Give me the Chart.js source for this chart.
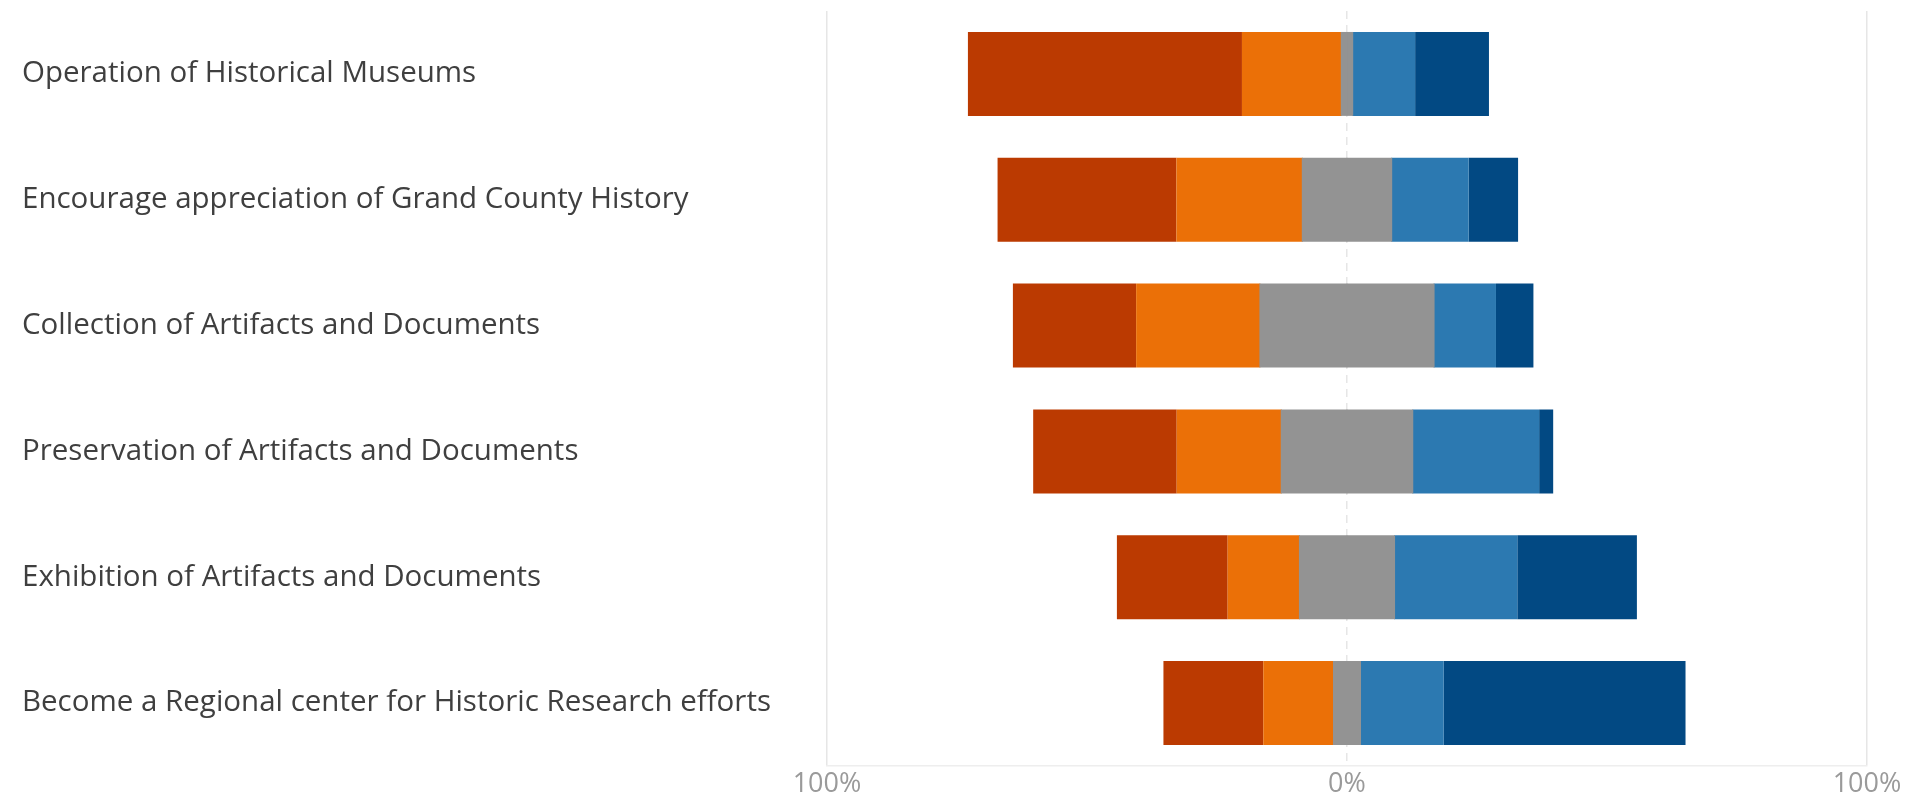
<!DOCTYPE html>
<html>
<head>
<meta charset="utf-8">
<script src="https://cdn.jsdelivr.net/npm/chart.js@4"></script>
<style>
    html, body { margin: 0; padding: 0; background: #fff; }
    #wrap { width: 1910px; height: 799px; }
</style>
</head>
<body>
<div id="wrap"><canvas id="likertChart"></canvas></div>
<script>
// ===== Data (percent of responses) =====
const categories = [
    "Operation of Historical Museums",
    "Encourage appreciation of Grand County History",
    "Collection of Artifacts and Documents",
    "Preservation of Artifacts and Documents",
    "Exhibition of Artifacts and Documents",
    "Become a Regional center for Historic Research efforts",
];
const stronglyDisagree = [52.7, 34.4, 23.7, 27.6, 21.3, 19.2];
const disagree = [19.2, 24.3, 23.9, 20.2, 13.9, 13.6];
const neutral = [2.0, 17.0, 33.3, 25.1, 18.1, 5.0];
const agree = [12.1, 14.9, 12.0, 24.4, 23.7, 16.1];
const stronglyAgree = [14.2, 9.5, 7.2, 2.7, 23.0, 46.5];
const tickValues = [-100, 0, 100];

const colors = {
    sd: "#bb3a01",
    d: "#eb7007",
    n: "#939393",
    a: "#2c79b1",
    sa: "#024983",
};

// negative side stacks outward from zero in dataset order
const neg = (arr) => arr.map((v) => -v);
const half = (arr, sign) => arr.map((v) => (sign * v) / 2);

// neutral is split in two halves around 0; inflate 1px to hide the seam,
// and shrink the bar a bit so the height still matches the others
const neutralOpts = { backgroundColor: colors.n, inflateAmount: 1, barPercentage: 0.651 };

new Chart(document.getElementById("likertChart"), {
    type: "bar",
    data: {
        labels: categories,
        datasets: [
            { label: "Neutral", data: half(neutral, -1), ...neutralOpts },
            { label: "Disagree", data: neg(disagree), backgroundColor: colors.d },
            { label: "Strongly disagree", data: neg(stronglyDisagree), backgroundColor: colors.sd },
            { label: "Neutral ", data: half(neutral, 1), ...neutralOpts },
            { label: "Agree", data: agree, backgroundColor: colors.a },
            { label: "Strongly agree", data: stronglyAgree, backgroundColor: colors.sa },
        ],
    },
    options: {
        indexAxis: "y",
        responsive: true,
        maintainAspectRatio: false,
        animation: false,
        categoryPercentage: 1,
        barPercentage: 0.667,
        layout: { padding: { left: 22, right: 43, top: 11, bottom: 0 } },
        plugins: {
            legend: { display: false },
            tooltip: { enabled: false },
        },
        scales: {
            x: {
                stacked: true,
                min: -100,
                max: 100,
                afterBuildTicks: (scale) => {
                    scale.ticks = tickValues.map((v) => ({ value: v }));
                },
                afterFit: (scale) => {
                    scale.height = 33;
                },
                ticks: {
                    padding: 2,
                    color: "#9a9a9a",
                    font: { family: "'Open Sans', sans-serif", size: 27 },
                    callback: (v) => Math.abs(v) + "%",
                },
                grid: {
                    drawTicks: false,
                    color: "#e6e6e6",
                    lineWidth: 1.5,
                },
                border: {
                    display: true,
                    color: "#eeeeee",
                    width: 1.5,
                    dash: (ctx) => (ctx.tick && ctx.tick.value === 0 ? [8, 6] : []),
                },
            },
            y: {
                stacked: true,
                afterFit: (scale) => {
                    scale.width = 805;
                    scale.paddingTop = 0;
                    scale.paddingBottom = 0;
                },
                ticks: {
                    crossAlign: "far",
                    color: "#3f3f3f",
                    font: { family: "'Open Sans', sans-serif", size: 29.5 },
                },
                grid: { display: false, drawTicks: false },
                border: { display: false },
            },
        },
    },
});
</script>
</body>
</html>
